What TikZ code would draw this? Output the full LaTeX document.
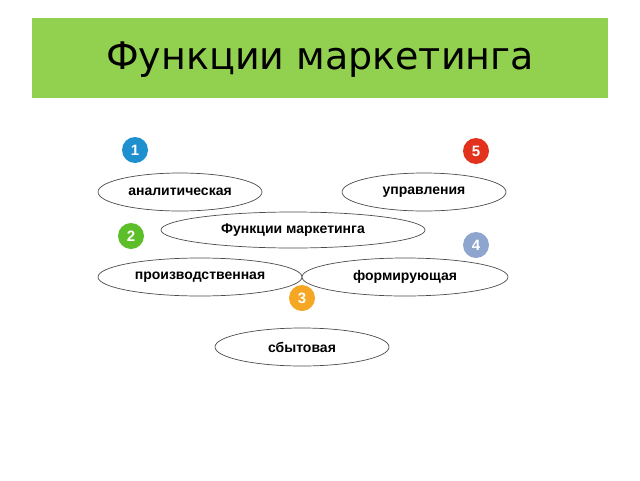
\documentclass[tikz,border=0pt]{standalone}
\usepackage{fontspec}
\setmainfont{Liberation Sans}
\newfontfamily\titlefont{DejaVu Sans}
\usetikzlibrary{shapes.geometric}
\definecolor{bargreen}{HTML}{92D050}
\definecolor{numblue}{HTML}{1E8FCF}
\definecolor{numred}{HTML}{E2321E}
\definecolor{numgreen}{HTML}{5CBF2A}
\definecolor{numgrey}{HTML}{8EA6CE}
\definecolor{numorange}{HTML}{F5A623}
\tikzset{
  func/.style={draw=black!70, ellipse, line width=0.7pt, fill=white, inner sep=0pt, font=\bfseries\fontsize{14}{16}\selectfont},
  num/.style={circle, minimum size=26pt, inner sep=0pt, text=white, font=\bfseries\fontsize{15}{17}\selectfont}
}
\begin{document}
\begin{tikzpicture}[x=1pt,y=-1pt]
    \useasboundingbox (0,0) rectangle (640,480);
    \fill[bargreen] (32,18) rectangle (608,98);
    \node (title) at (320,60) {\titlefont\fontsize{38}{44}\selectfont Функции маркетинга};
    % numbered badges
    \node[num, fill=numblue] (n1) at (135,150) {1};
    \node[num, fill=numred] (n5) at (476,151) {5};
    \node[num, fill=numgreen] (n2) at (131,236) {2};
    \node[num, fill=numgrey] (n4) at (476,245) {4};
    % function ellipses
    \node[func, minimum width=164pt, minimum height=38pt] (anal) at (180,192) {аналитическая};
    \node[func, minimum width=164pt, minimum height=38pt] (upr) at (424,192) {управления};
    \node[func, minimum width=264pt, minimum height=36pt] (center) at (293,230) {Функции маркетинга};
    \node[func, minimum width=204pt, minimum height=38pt] (proizv) at (200,277) {производственная};
    \node[func, minimum width=206pt, minimum height=38pt] (form) at (405,277) {формирующая};
    \node[func, minimum width=174pt, minimum height=38pt] (sbyt) at (302,347) {сбытовая};
    \node[num, fill=numorange] (n3) at (302,298) {3};
\end{tikzpicture}
\end{document}
